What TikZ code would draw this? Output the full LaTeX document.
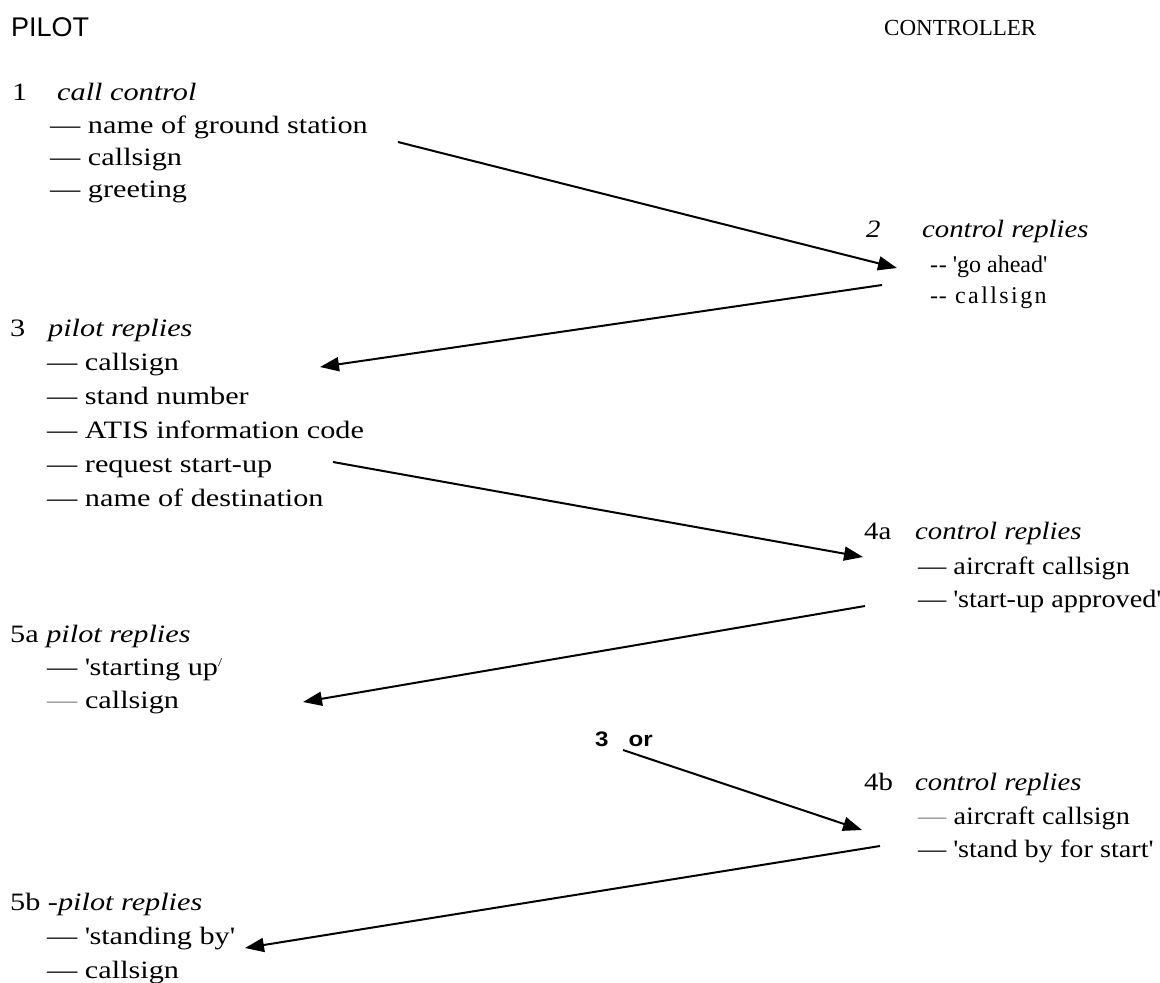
\documentclass[tikz,border=0pt]{standalone}
\usepackage{fontspec}
\setmainfont{Liberation Serif}[FakeStretch=1.21]
\newfontfamily\rightserif{Liberation Serif}[FakeStretch=1.13]
\newfontfamily\replyserif{Liberation Serif}[FakeStretch=1.15]
\newfontfamily\titleserif{Liberation Serif}
\newfontfamily\spacedserif{Liberation Serif}[LetterSpace=10]
\newfontfamily\headsans{Liberation Sans}
\newfontfamily\altsans{Liberation Sans}[FakeStretch=1.15]
\usetikzlibrary{arrows.meta}
\newcommand{\sq}{\textquotesingle}
\newcommand{\hy}{-\kern0.6pt-}
\begin{document}
\begin{tikzpicture}[x=1pt,y=-1pt,
  txt/.style={anchor=base west, inner sep=0pt, font=\fontsize{25}{28}\selectfont},
  rtxt/.style={txt, font=\rightserif\fontsize{25}{28}\selectfont},
  ctitle/.style={txt, font=\replyserif\fontsize{25}{28}\selectfont},
  msg/.style={line width=2pt, -{Triangle[length=19pt,width=14pt]}}]
\useasboundingbox (0,0) rectangle (1160,983);

% column headings
\node[anchor=base west, inner sep=0pt, font=\headsans\fontsize{27}{30}\selectfont] (pilot) at (11,36) {PILOT};
\node[anchor=base west, inner sep=0pt, font=\titleserif\fontsize{23}{26}\selectfont] (controller) at (884,35) {CONTROLLER};

% 1 -- pilot calls
\node[txt] (s1)  at (12,100) {\makebox[45pt][l]{1}\textit{call control}};
\node[txt] (s1a) at (50,133) {— name of ground station};
\node[txt] (s1b) at (50,165) {— callsign};
\node[txt] (s1c) at (50,197) {— greeting};

% 2 -- control replies
\node[ctitle] (s2)  at (866,237) {\makebox[56pt][l]{\textit{2}}\textit{control replies}};
\node[txt, font=\titleserif\fontsize{24}{28}\selectfont] (s2a) at (930,272) {\hy\ \sq go ahead\sq};
\node[txt, font=\spacedserif\fontsize{24}{28}\selectfont] (s2b) at (930,303) {\hy\ callsign};

% 3 -- pilot replies
\node[txt] (s3)  at (10,336) {\makebox[38pt][l]{3}\textit{pilot replies}};
\node[txt] (s3a) at (47,370) {— callsign};
\node[txt] (s3b) at (47,404) {— stand number};
\node[txt] (s3c) at (47,438) {— ATIS information code};
\node[txt] (s3d) at (47,472) {— request start-up};
\node[txt] (s3e) at (47,506) {— name of destination};

% 4a -- start-up approved
\node[ctitle] (s4a)  at (864,539) {\makebox[51pt][l]{4a}\textit{control replies}};
\node[rtxt] (s4a1) at (918,574) {— aircraft callsign};
\node[rtxt] (s4a2) at (918,607) {— \sq start-up approved\sq};

% 5a -- pilot acknowledges
\node[txt] (s5a)  at (10,642) {5a \textit{pilot replies}};
\node[txt] (s5a1) at (47,675) {— \sq starting up\raisebox{0.33em}{\fontsize{12}{12}\selectfont /}};
\node[txt] (s5a2) at (47,708) {\textcolor{black!45}{—} callsign};

% alternative branch
\node[anchor=base west, inner sep=0pt, font=\altsans\bfseries\fontsize{21}{24}\selectfont] (alt) at (595,746) {3\hspace{20pt}or};

% 4b -- stand by
\node[ctitle] (s4b)  at (864,790) {\makebox[51pt][l]{4b}\textit{control replies}};
\node[rtxt] (s4b1) at (918,824) {\textcolor{black!45}{—} aircraft callsign};
\node[rtxt] (s4b2) at (918,857) {— \sq stand by for start\sq};

% 5b -- pilot stands by
\node[txt] (s5b)  at (10,910) {5b -\textit{pilot replies}};
\node[txt] (s5b1) at (47,944) {— \sq standing by\sq};
\node[txt] (s5b2) at (47,978) {— callsign};

% message arrows
\coordinate (m1s) at (398,142);  \coordinate (m1e) at (897,268);
\coordinate (m2s) at (882,285);  \coordinate (m2e) at (320,367);
\coordinate (m3s) at (333,462);  \coordinate (m3e) at (863,557);
\coordinate (m4s) at (865,606);  \coordinate (m4e) at (303,702);
\coordinate (m5s) at (623,750);  \coordinate (m5e) at (862,830);
\coordinate (m6s) at (880,846);  \coordinate (m6e) at (245,948);

\draw[msg] (m1s) -- (m1e);
\draw[msg] (m2s) -- (m2e);
\draw[msg] (m3s) -- (m3e);
\draw[msg] (m4s) -- (m4e);
\draw[msg] (m5s) -- (m5e);
\draw[msg] (m6s) -- (m6e);
\end{tikzpicture}
\end{document}
